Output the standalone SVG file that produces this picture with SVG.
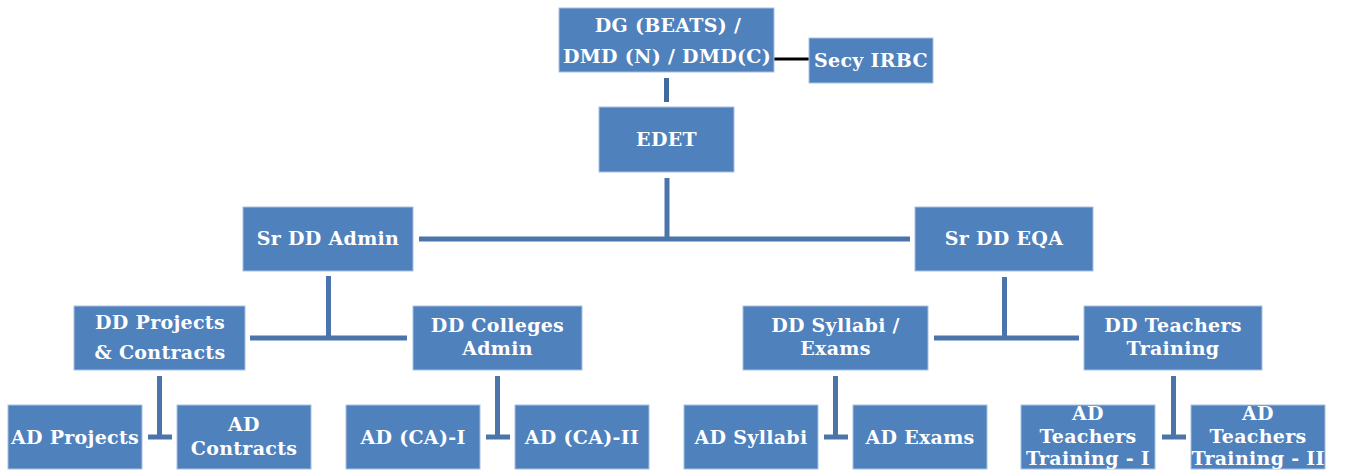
<svg xmlns="http://www.w3.org/2000/svg" width="1345" height="475" viewBox="0 0 1345 475">
<style>
.box{fill:#4F81BD;stroke:#A9C2E0;stroke-width:1}
.t{font-family:"DejaVu Serif","Liberation Serif",serif;font-weight:bold;font-size:19px;fill:#FFFFFF;text-anchor:middle;letter-spacing:0.3px}
.c{stroke:#4A74AA;stroke-width:5;fill:none}
.k{stroke:#000000;stroke-width:3;fill:none}
</style>
<rect x="0" y="0" width="1345" height="475" fill="#FFFFFF"/>
<g id="connectors">
<line class="k" x1="774" y1="59" x2="809" y2="59"/>
<line class="c" x1="666.5" y1="78" x2="666.5" y2="102" style="stroke:#3F6A9E"/>
<line class="c" x1="667" y1="178" x2="667" y2="239"/>
<line class="c" x1="419" y1="239" x2="910" y2="239"/>
<line class="c" x1="328.5" y1="276" x2="328.5" y2="338"/>
<line class="c" x1="250" y1="338" x2="407" y2="338"/>
<line class="c" x1="1004.5" y1="277" x2="1004.5" y2="338"/>
<line class="c" x1="934" y1="338" x2="1079" y2="338"/>
<line class="c" x1="159.5" y1="376" x2="159.5" y2="437"/>
<line class="c" x1="148" y1="437" x2="172" y2="437"/>
<line class="c" x1="497.5" y1="376" x2="497.5" y2="437"/>
<line class="c" x1="486" y1="437" x2="510" y2="437"/>
<line class="c" x1="835.5" y1="376" x2="835.5" y2="437"/>
<line class="c" x1="824" y1="437" x2="848" y2="437"/>
<line class="c" x1="1173.5" y1="376" x2="1173.5" y2="437"/>
<line class="c" x1="1162" y1="437" x2="1186" y2="437"/>
</g>
<g id="dg"><rect class="box" x="559" y="8" width="215" height="64"/><text class="t" x="668" y="32">DG (BEATS) /</text><text class="t" x="667" y="63">DMD (N) / DMD(C)</text></g>
<g id="secy"><rect class="box" x="809" y="38" width="124" height="45"/><text class="t" x="871" y="67">Secy IRBC</text></g>
<g id="edet"><rect class="box" x="599" y="107" width="135" height="65"/><text class="t" x="666.5" y="146">EDET</text></g>
<g id="srddadmin"><rect class="box" x="243" y="207" width="170" height="64"/><text class="t" x="328" y="245">Sr DD Admin</text></g>
<g id="srddeqa"><rect class="box" x="915" y="207" width="178" height="64"/><text class="t" x="1004" y="245">Sr DD EQA</text></g>
<g id="ddprojects"><rect class="box" x="74" y="306" width="171" height="64"/><text class="t" x="160" y="329">DD Projects</text><text class="t" x="160" y="359">&amp; Contracts</text></g>
<g id="ddcolleges"><rect class="box" x="413" y="306" width="169" height="64"/><text class="t" x="497.5" y="332">DD Colleges</text><text class="t" x="497.5" y="355">Admin</text></g>
<g id="ddsyllabi"><rect class="box" x="743" y="306" width="185" height="64"/><text class="t" x="835.5" y="332">DD Syllabi /</text><text class="t" x="835.5" y="355">Exams</text></g>
<g id="ddteachers"><rect class="box" x="1084" y="306" width="178" height="64"/><text class="t" x="1173" y="332">DD Teachers</text><text class="t" x="1173" y="355">Training</text></g>
<g id="adprojects"><rect class="box" x="8" y="405" width="134" height="64"/><text class="t" x="75" y="444">AD Projects</text></g>
<g id="adcontracts"><rect class="box" x="177" y="405" width="134" height="64"/><text class="t" x="244" y="431">AD</text><text class="t" x="244" y="455">Contracts</text></g>
<g id="adca1"><rect class="box" x="346" y="405" width="134" height="64"/><text class="t" x="413" y="444">AD (CA)-I</text></g>
<g id="adca2"><rect class="box" x="515" y="405" width="134" height="64"/><text class="t" x="582" y="444">AD (CA)-II</text></g>
<g id="adsyllabi"><rect class="box" x="684" y="405" width="134" height="64"/><text class="t" x="751" y="444">AD Syllabi</text></g>
<g id="adexams"><rect class="box" x="853" y="405" width="134" height="64"/><text class="t" x="920" y="444">AD Exams</text></g>
<g id="adtt1"><rect class="box" x="1021" y="405" width="134" height="64"/><text class="t" x="1088" y="420">AD</text><text class="t" x="1088" y="443">Teachers</text><text class="t" x="1088" y="465">Training - I</text></g>
<g id="adtt2"><rect class="box" x="1191" y="405" width="134" height="64"/><text class="t" x="1258" y="420">AD</text><text class="t" x="1258" y="443">Teachers</text><text class="t" x="1258" y="465">Training - II</text></g>
</svg>
